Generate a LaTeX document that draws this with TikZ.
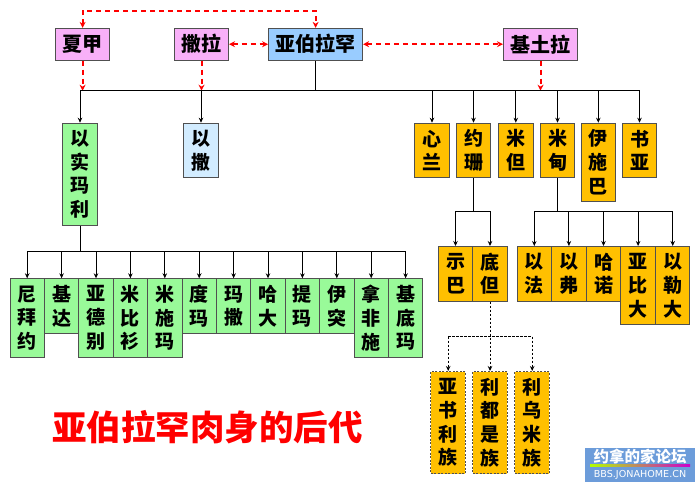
\documentclass[tikz,border=0pt]{standalone}
\usepackage{fontspec}
\setmainfont{Noto Sans CJK SC}
\newfontfamily\wmfont{DejaVu Sans}
\usetikzlibrary{arrows.meta}

\definecolor{pinkbox}{RGB}{248,176,248}
\definecolor{abrblue}{RGB}{153,204,255}
\definecolor{isaacblue}{RGB}{210,236,255}
\definecolor{greenbox}{RGB}{153,250,153}
\definecolor{goldbox}{RGB}{255,192,0}
\definecolor{boxline}{RGB}{80,80,80}
\definecolor{wmblue}{RGB}{108,156,218}

\tikzset{
  topbox/.style={draw=boxline, line width=1pt, minimum height=31.7,
    inner sep=0pt, font=\bfseries\fontsize{20}{24}\selectfont},
  colbox/.style={draw=boxline, line width=1pt, anchor=north,
    minimum width=34.5, minimum height={23.7*#1+7.2}, inner sep=0pt,
    align=center, font=\bfseries\fontsize{19}{23.7}\selectfont},
  greencol/.style={colbox=#1, fill=greenbox},
  goldcol/.style={colbox=#1, fill=goldbox},
  clancol/.style={colbox=#1, fill=goldbox, dash pattern=on 2pt off 1.5pt},
  tree/.style={line width=0.9pt},
  treearrow/.style={tree, -{Stealth[length=5pt,width=4.5pt]}},
  dashtree/.style={tree, dash pattern=on 2.5pt off 1.5pt},
  reddash/.style={red, line width=2pt, dash pattern=on 5pt off 4pt,
    >={Stealth[length=6pt,width=6pt]}}
}

\begin{document}
\begin{tikzpicture}[x=1pt, y=-1pt]

  \fill[white] (0,0) rectangle (700,488);
  \useasboundingbox (0,0) rectangle (700,488);

  % bus lines
  \coordinate (hagarloop) at (0,10.7);
  \coordinate (topbus) at (0,90.7);
  \coordinate (jokbus) at (0,211);
  \coordinate (ishbus) at (0,251.7);
  \coordinate (dedbus) at (0,336.7);

  % Abraham and his wives
  \node[topbox, fill=pinkbox, minimum width=54] (hagar) at (82.6,44.2) {夏甲};
  \node[topbox, fill=pinkbox, minimum width=54] (sarah) at (201.5,44.2) {撒拉};
  \node[topbox, fill=abrblue, minimum width=94] (abraham) at (315.6,44.2) {亚伯拉罕};
  \node[topbox, fill=pinkbox, minimum width=74] (keturah) at (540.5,44.2) {基土拉};

  % sons
  \node[greencol=4] (ishmael) at (80,122.7) {以\\实\\玛\\利};
  \node[colbox=2, fill=isaacblue] (isaac) at (201,122.7) {以\\撒};
  \node[goldcol=2] (zimran) at (432,122.7) {心\\兰};
  \node[goldcol=2] (jokshan) at (473.5,122.7) {约\\珊};
  \node[goldcol=2] (medan) at (515.8,122.7) {米\\但};
  \node[goldcol=2] (midian) at (557.5,122.7) {米\\甸};
  \node[goldcol=3] (ishbak) at (598.3,122.7) {伊\\施\\巴};
  \node[goldcol=2] (shuah) at (639.5,122.7) {书\\亚};

  % sons of Ishmael
  \node[greencol=3, minimum width=34.4] (nebaioth) at (27.2,278.3) {尼\\拜\\约};
  \node[greencol=2, minimum width=34.4] (kedar) at (61.6,278.3) {基\\达};
  \node[greencol=3, minimum width=34.4] (adbeel) at (96,278.3) {亚\\德\\别};
  \node[greencol=3, minimum width=34.4] (mibsam) at (130.4,278.3) {米\\比\\衫};
  \node[greencol=3, minimum width=34.4] (mishma) at (164.8,278.3) {米\\施\\玛};
  \node[greencol=2, minimum width=34.4] (dumah) at (199.2,278.3) {度\\玛};
  \node[greencol=2, minimum width=34.4] (massa) at (233.6,278.3) {玛\\撒};
  \node[greencol=2, minimum width=34.4] (hadad) at (268,278.3) {哈\\大};
  \node[greencol=2, minimum width=34.4] (tema) at (302.4,278.3) {提\\玛};
  \node[greencol=2, minimum width=34.4] (jetur) at (336.8,278.3) {伊\\突};
  \node[greencol=3, minimum width=34.4] (naphish) at (371.2,278.3) {拿\\非\\施};
  \node[greencol=3, minimum width=34.4] (kedemah) at (405.6,278.3) {基\\底\\玛};

  % sons of Jokshan and Midian
  \node[goldcol=2] (sheba) at (455.5,246) {示\\巴};
  \node[goldcol=2] (dedan) at (490,246) {底\\但};
  \node[goldcol=2] (ephah) at (534.3,246) {以\\法};
  \node[goldcol=2] (epher) at (568.9,246) {以\\弗};
  \node[goldcol=2] (hanoch) at (603.5,246) {哈\\诺};
  \node[goldcol=3] (abida) at (638.1,246) {亚\\比\\大};
  \node[goldcol=3] (eldaah) at (672.7,246) {以\\勒\\大};

  % clans of Dedan
  \node[clancol=4] (asshurim) at (448.2,371) {亚\\书\\利\\族};
  \node[clancol=4] (letushim) at (490,371) {利\\都\\是\\族};
  \node[clancol=4] (leummim) at (532.2,371) {利\\乌\\米\\族};

  % red dashed links
  \draw[reddash, <->] (hagar.north) |- (abraham.north |- hagarloop) -- (abraham.north);
  \draw[reddash, <->] (sarah.east) -- (abraham.west);
  \draw[reddash, <->] (abraham.east) -- (keturah.west);
  \draw[reddash, ->] (hagar.south) -- (hagar.south |- topbus);
  \draw[reddash, ->] (sarah.south) -- (sarah.south |- topbus);
  \draw[reddash, ->] (keturah.south) -- (keturah.south |- topbus);

  % tree from Abraham
  \draw[tree] (abraham.south) -- (abraham.south |- topbus);
  \draw[tree] (ishmael.north |- topbus) -- (shuah.north |- topbus);
  \foreach \k in {ishmael,isaac,zimran,jokshan,medan,midian,ishbak,shuah}
    \draw[treearrow] (\k.north |- topbus) -- (\k.north);

  % tree from Ishmael
  \draw[tree] (ishmael.south) -- (ishmael.south |- ishbus);
  \draw[tree] (nebaioth.north |- ishbus) -- (kedemah.north |- ishbus);
  \foreach \k in {nebaioth,kedar,adbeel,mibsam,mishma,dumah,massa,hadad,tema,jetur,naphish,kedemah}
    \draw[treearrow] (\k.north |- ishbus) -- (\k.north);

  % tree from Jokshan and Midian
  \draw[tree] (jokshan.south) -- (jokshan.south |- jokbus);
  \draw[tree] (sheba.north |- jokbus) -- (dedan.north |- jokbus);
  \draw[tree] (midian.south) -- (midian.south |- jokbus);
  \draw[tree] (ephah.north |- jokbus) -- (eldaah.north |- jokbus);
  \foreach \k in {sheba,dedan,ephah,epher,hanoch,abida,eldaah}
    \draw[treearrow] (\k.north |- jokbus) -- (\k.north);

  % tree from Dedan
  \draw[dashtree, -{Stealth[length=5pt,width=4.5pt]}] (dedan.south) -- (letushim.north);
  \draw[dashtree] (asshurim.north |- dedbus) -- (leummim.north |- dedbus);
  \draw[dashtree, -{Stealth[length=5pt,width=4.5pt]}] (asshurim.north |- dedbus) -- (asshurim.north);
  \draw[dashtree, -{Stealth[length=5pt,width=4.5pt]}] (leummim.north |- dedbus) -- (leummim.north);

  % title
  \node[text=red, font=\bfseries\fontsize{34.5}{36}\selectfont] (title) at (207.5,427.5) {亚伯拉罕肉身的后代};

  % watermark
  \node[fill=wmblue, minimum width=110, minimum height=34, inner sep=0pt] (wm) at (640,465.3) {};
  \node[text=white, font=\bfseries\fontsize{15.5}{16}\selectfont] (wmname) at (640,456.3) {约拿的家论坛};
  \shade[left color=yellow!70!green, right color=violet!40!magenta] (590,464.3) rectangle (690,466);
  \node[text=white, font=\wmfont\fontsize{9.6}{10}\selectfont] (wmurl) at (640,474.8) {BBS.JONAHOME.CN};

\end{tikzpicture}
\end{document}
